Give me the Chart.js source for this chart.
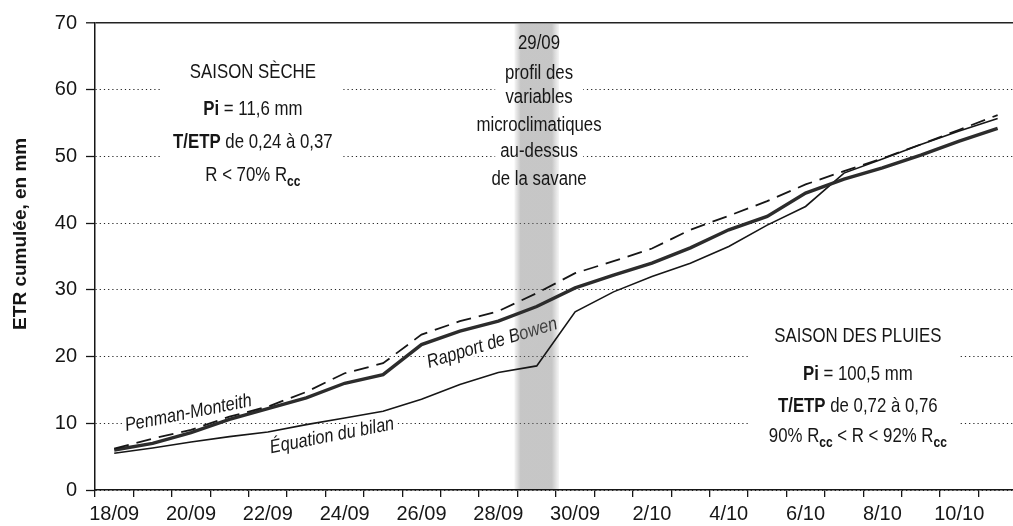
<!DOCTYPE html>
<html lang="fr">
<head>
<meta charset="utf-8">
<script src="https://cdn.jsdelivr.net/npm/chart.js@4/dist/chart.umd.min.js"></script>
<style>
  html, body { margin: 0; padding: 0; background: #fff; }
  #wrap { width: 1013px; height: 526px; position: relative; }
</style>
</head>
<body>
<div id="wrap"><canvas id="etr-chart"></canvas></div>
<script>
// one point per day, from 18/09 to 11/10
const dayLabels = ['18/09', '19/09', '20/09', '21/09', '22/09', '23/09', '24/09', '25/09',
    '26/09', '27/09', '28/09', '29/09', '30/09', '1/10', '2/10', '3/10', '4/10', '5/10',
    '6/10', '7/10', '8/10', '9/10', '10/10', '11/10'];
const dayIndex = dayLabels.map((d, i) => i);

// ETR cumulée (mm)
const penmanMonteith = [6.2, 7.7, 9.0, 11.0, 12.5, 14.7, 17.5, 19.0, 23.3, 25.3, 26.8, 29.5,
    32.5, 34.3, 36.2, 39.0, 41.1, 43.3, 45.8, 47.8, 49.7, 51.8, 54.0, 56.2];
const rapportBowen = [6.0, 7.0, 8.6, 10.6, 12.2, 13.8, 16.0, 17.3, 21.8, 23.8, 25.3, 27.5,
    30.3, 32.2, 34.0, 36.3, 39.0, 41.0, 44.5, 46.6, 48.3, 50.2, 52.3, 54.2];
const equationBilan = [5.5, 6.3, 7.2, 8.0, 8.7, 9.8, 10.8, 11.8, 13.6, 15.8, 17.6, 18.6,
    26.7, 29.7, 32.0, 34.0, 36.5, 39.7, 42.5, 47.5, 49.6, 51.8, 53.8, 55.7];

const yTitle = 'ETR cumulée, en mm';
const profilDay = 11; // 29/09
const profilText = ['29/09', 'profil des', 'variables', 'microclimatiques', 'au-dessus', 'de la savane'];
const saisonSeche = [
    [['SAISON SÈCHE', 'n']],
    [['Pi', 'b'], [' = 11,6 mm', 'n']],
    [['T/ETP', 'b'], [' de 0,24 à 0,37', 'n']],
    [['R < 70% R', 'n'], ['cc', 'sub']]
];
const saisonPluies = [
    [['SAISON DES PLUIES', 'n']],
    [['Pi', 'b'], [' = 100,5 mm', 'n']],
    [['T/ETP', 'b'], [' de 0,72 à 0,76', 'n']],
    [['90% R', 'n'], ['cc', 'sub'], [' < R < 92% R', 'n'], ['cc', 'sub']]
];

const FONT = '"Liberation Sans", Arial, sans-serif';
const INK = '#161616';

function segFont(kind, size) {
    if (kind === 'b') return 'bold ' + size + 'px ' + FONT;
    if (kind === 'sub') return 'bold ' + Math.round(size * 0.72) + 'px ' + FONT;
    return size + 'px ' + FONT;
}

function drawRich(ctx, segs, cx, cy, size, sx) {
    ctx.save();
    ctx.translate(cx, cy);
    ctx.scale(sx, 1);
    ctx.textBaseline = 'middle';
    ctx.textAlign = 'left';
    ctx.fillStyle = INK;
    let w = 0;
    segs.forEach(([t, k]) => { ctx.font = segFont(k, size); w += ctx.measureText(t).width; });
    let xx = -w / 2;
    segs.forEach(([t, k]) => {
        ctx.font = segFont(k, size);
        ctx.fillText(t, xx, k === 'sub' ? size * 0.32 : 0);
        xx += ctx.measureText(t).width;
    });
    ctx.restore();
}

function drawCurveLabel(ctx, text, cx, cy, angle) {
    ctx.save();
    ctx.translate(cx, cy);
    ctx.rotate(angle * Math.PI / 180);
    ctx.scale(0.86, 1);
    ctx.font = 'italic 19px ' + FONT;
    ctx.textAlign = 'center';
    ctx.textBaseline = 'middle';
    ctx.lineWidth = 5;
    ctx.strokeStyle = '#fff';
    ctx.strokeText(text, 0, 0);
    ctx.fillStyle = INK;
    ctx.fillText(text, 0, 0);
    ctx.restore();
}

function whiteBox(ctx, x, y, x0, x1, y0, y1) {
    const left = x.getPixelForValue(x0), right = x.getPixelForValue(x1);
    const top = y.getPixelForValue(y0), bottom = y.getPixelForValue(y1);
    ctx.fillStyle = '#fff';
    ctx.fillRect(left, top, right - left, bottom - top);
}

const annotations = {
    id: 'annotations',
    beforeDatasetsDraw(chart) {
        const { ctx, chartArea, scales: { x, y } } = chart;

        // gaps in the grid behind the text blocks
        whiteBox(ctx, x, y, 1.2, 5.96, 66, 45);
        whiteBox(ctx, x, y, 9.92, 12.21, 69.4, 44.2);
        whiteBox(ctx, x, y, 16.55, 21.97, 26.2, 5.2);

        // curve names
        drawCurveLabel(ctx, 'Penman-Monteith', x.getPixelForValue(1.93), y.getPixelForValue(11.5), -11.3);
        drawCurveLabel(ctx, 'Équation du bilan', x.getPixelForValue(5.67), y.getPixelForValue(8.1), -11);
        drawCurveLabel(ctx, 'Rapport de Bowen', x.getPixelForValue(9.84), y.getPixelForValue(22.0), -17);

        // grey band on 29/09
        const b0 = x.getPixelForValue(profilDay - 0.58);
        const b1 = x.getPixelForValue(profilDay + 0.58);
        const g = ctx.createLinearGradient(b0, 0, b1, 0);
        g.addColorStop(0, 'rgba(130,130,130,0.08)');
        g.addColorStop(0.14, 'rgba(120,120,120,0.42)');
        g.addColorStop(0.84, 'rgba(120,120,120,0.42)');
        g.addColorStop(1, 'rgba(130,130,130,0.08)');
        ctx.fillStyle = g;
        ctx.fillRect(b0, chartArea.top + 1, b1 - b0, chartArea.bottom - chartArea.top - 2);

        // text blocks
        const lx = x.getPixelForValue(3.61);
        [62.66, 57.1, 52.2, 47.2].forEach((v, i) => drawRich(ctx, saisonSeche[i], lx, y.getPixelForValue(v), 21, 0.8));
        const rx = x.getPixelForValue(19.36);
        [23.1, 17.4, 12.6, 8.1].forEach((v, i) => drawRich(ctx, saisonPluies[i], rx, y.getPixelForValue(v), 21, 0.8));
        const mx = x.getPixelForValue(profilDay + 0.06);
        [67.0, 62.4, 58.8, 54.6, 50.8, 46.5].forEach((v, i) => drawRich(ctx, [[profilText[i], 'n']], mx, y.getPixelForValue(v), 20, 0.84));

        // axis title
        ctx.save();
        ctx.translate(21, y.getPixelForValue(38.4));
        ctx.rotate(-Math.PI / 2);
        ctx.font = 'bold 19px ' + FONT;
        ctx.textAlign = 'center';
        ctx.textBaseline = 'middle';
        ctx.fillStyle = INK;
        ctx.fillText(yTitle, 0, 0);
        ctx.restore();
    }
};

function series(values) {
    return values.map((v, i) => ({ x: dayIndex[i], y: v }));
}

new Chart(document.getElementById('etr-chart'), {
    type: 'line',
    data: {
        datasets: [
            { label: 'Penman-Monteith', data: series(penmanMonteith), borderColor: INK, borderWidth: 1.8, borderDash: [15, 8] },
            { label: 'Rapport de Bowen', data: series(rapportBowen), borderColor: '#2c2c2c', borderWidth: 3.4 },
            { label: 'Équation du bilan', data: series(equationBilan), borderColor: INK, borderWidth: 1.6 }
        ]
    },
    options: {
        responsive: true,
        maintainAspectRatio: false,
        animation: false,
        devicePixelRatio: 1,
        layout: { padding: { top: 23, left: 0, right: 0, bottom: 0 } },
        elements: {
            point: { radius: 0 },
            line: { tension: 0, fill: false }
        },
        scales: {
            x: {
                type: 'linear',
                min: -0.5,
                max: 23.4,
                ticks: {
                    stepSize: 0.5,
                    autoSkip: false,
                    maxRotation: 0,
                    includeBounds: false,
                    padding: 5,
                    color: INK,
                    font: { family: FONT, size: 20 },
                    callback: v => (Number.isInteger(v) && v % 2 === 0) ? dayLabels[v] : ''
                },
                grid: {
                    drawOnChartArea: false,
                    tickLength: 7,
                    color: c => Number.isInteger(c.tick.value) ? 'rgba(0,0,0,0)' : INK,
                    lineWidth: 1.3
                },
                border: { display: true, color: INK, width: 1.6 },
                afterFit: s => { s.height = 36; }
            },
            y: {
                min: 0,
                max: 70,
                ticks: {
                    stepSize: 10,
                    padding: 9,
                    color: INK,
                    font: { family: FONT, size: 20 }
                },
                grid: {
                    color: '#222',
                    lineWidth: c => c.tick && c.tick.value === 70 ? 1.6 : 1,
                    tickLength: 9,
                    tickColor: INK,
                    tickWidth: 1.3
                },
                border: {
                    display: true,
                    color: INK,
                    width: 1.5,
                    dash: c => (c.tick && c.tick.value === 70) ? [] : [1.2, 3]
                },
                afterFit: s => { s.width = 95; }
            }
        },
        plugins: {
            legend: { display: false },
            tooltip: { enabled: false }
        }
    },
    plugins: [annotations]
});
</script>
</body>
</html>
